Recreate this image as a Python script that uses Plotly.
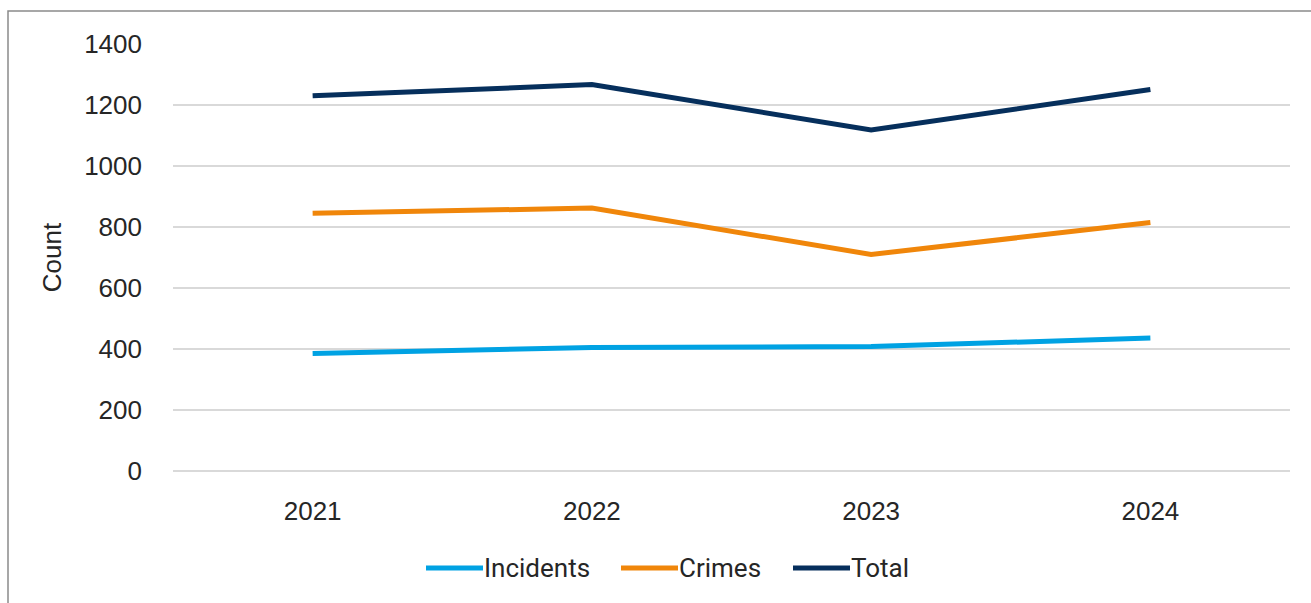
import plotly.graph_objects as go

# Yearly counts
years = ["2021", "2022", "2023", "2024"]
incidents = [385, 405, 408, 436]
crimes = [845, 862, 710, 815]
total = [1230, 1267, 1118, 1251]

series_names = ["Incidents", "Crimes", "Total"]
series_values = [incidents, crimes, total]
series_colors = ["#00A2E3", "#F0860A", "#062F5C"]

y_ticks = [0, 200, 400, 600, 800, 1000, 1200, 1400]

W, H = 1311, 603
L, R, T, B = 173, 21, 43.5, 132
plot_w = W - L - R
plot_h = H - T - B

TEXT = "#262626"
AXIS_FONT = dict(family="Liberation Sans", size=26, color=TEXT)


def px_x(x):
    return (x - L) / plot_w


def px_y(y):
    return (H - B - y) / plot_h


fig = go.Figure()
for name, vals, col in zip(series_names, series_values, series_colors):
    fig.add_trace(go.Scatter(
        x=years, y=vals, name=name, mode="lines",
        line=dict(color=col, width=5),
        showlegend=False,
    ))

# outer chart frame (runs past the right/bottom edges)
fig.add_shape(
    type="rect", xref="paper", yref="paper",
    x0=px_x(8), x1=1.2, y0=-0.6, y1=px_y(10.5),
    line=dict(color="#8A8A8A", width=1.5),
    fillcolor="rgba(0,0,0,0)", layer="below",
)

# legend below the plot: long line swatch followed by the series name
legend_x = [426, 621, 793]
swatch_len = 57
legend_y = 568
for name, col, x0 in zip(series_names, series_colors, legend_x):
    fig.add_shape(
        type="line", xref="paper", yref="paper",
        x0=px_x(x0), x1=px_x(x0 + swatch_len),
        y0=px_y(legend_y), y1=px_y(legend_y),
        line=dict(color=col, width=5),
    )
    fig.add_annotation(
        xref="paper", yref="paper",
        x=px_x(x0 + swatch_len), y=px_y(legend_y),
        xanchor="left", yanchor="middle", showarrow=False,
        text=name, borderpad=0,
        font=dict(family="Roboto", size=26, color=TEXT),
    )

fig.update_layout(
    width=W, height=H,
    margin=dict(l=L, r=R, t=T, b=B),
    paper_bgcolor="white", plot_bgcolor="white",
    showlegend=False,
    xaxis=dict(
        type="category", range=[-0.5, 3.5],
        showgrid=False, zeroline=False, showline=False,
        ticks="", tickfont=AXIS_FONT,
        ticklabelstandoff=22,
    ),
    yaxis=dict(
        range=[0, 1400], tickvals=y_ticks,
        showgrid=True, gridcolor="#D9D9D9", gridwidth=1.5,
        zeroline=True, zerolinecolor="#D9D9D9", zerolinewidth=1.5,
        showline=False, ticks="",
        tickfont=AXIS_FONT,
        ticklabelstandoff=30,
        title=dict(text="Count", font=AXIS_FONT, standoff=15),
    ),
)

fig.write_html("out.html")
